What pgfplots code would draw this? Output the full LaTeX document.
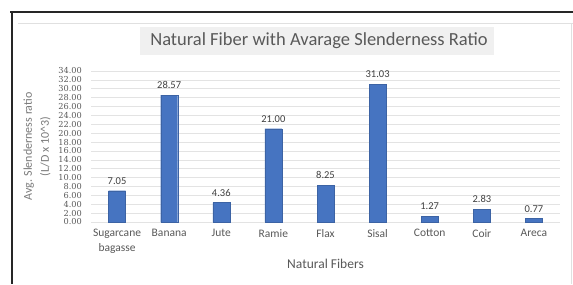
\documentclass[border=0pt]{standalone}
\usepackage{fontspec}
\setmainfont{Carlito}
\newfontfamily\tickfont{DejaVu Serif}
\usepackage{pgfplots}
\pgfplotsset{compat=1.18}
\definecolor{barblue}{HTML}{4674C1}
\definecolor{txtgray}{HTML}{595959}
\definecolor{gridgray}{HTML}{E3E3E3}
\begin{document}
\begin{tikzpicture}[x=1bp,y=1bp]
\useasboundingbox (0,0) rectangle (573,284);
\fill[white] (0,0) rectangle (573,284);
% frame
\draw[line width=1.6bp, black!85] (10,272) -- (573,272);
\draw[line width=1.6bp, black!85] (12,272) -- (12,0);
\draw[line width=0.6bp, black!12] (18,261) -- (573,261);
\draw[line width=0.6bp, black!12] (571,261) -- (571,0);
% title
\fill[black!6] (140,229) rectangle (494,257);
\node[font=\fontsize{18.5bp}{20bp}\selectfont, text=txtgray] at (319,243) {Natural Fiber with Avarage Slenderness Ratio};
\begin{axis}[
  at={(91bp,62bp)}, anchor=south west,
  scale only axis, width=469bp, height=151bp,
  ybar, bar width=17bp,
  xmin=-0.5, xmax=8.5, ymin=0, ymax=34,
  xtick=data,
  xticklabels={{Sugarcane\\bagasse},Banana,Jute,Ramie,Flax,Sisal,Cotton,Coir,Areca},
  xticklabel style={align=center, font=\fontsize{11.5bp}{15bp}\selectfont, text=txtgray, yshift=-4bp},
  ytick={0,2,...,34},
  yticklabel style={font=\tickfont\fontsize{8.2bp}{8bp}\selectfont, text=txtgray, inner sep=0pt, xshift=-9bp},
  /pgf/number format/assume math mode=true,
  /pgf/number format/fixed, /pgf/number format/fixed zerofill, /pgf/number format/precision=2,
  ymajorgrids, grid style={gridgray, line width=0.6bp},
  axis line style={draw=none},
  major tick length=0pt,
  xlabel={Natural Fibers},
  xlabel style={font=\fontsize{13.5bp}{15bp}\selectfont, text=txtgray, yshift=2bp},
  ylabel={Avg. Slenderness ratio\\(L/D x 10\^{}3)},
  ylabel style={align=center, font=\fontsize{12bp}{17bp}\selectfont, text=txtgray!80,
    at={(axis description cs:0,0.5)}, anchor=south, rotate=0, yshift=37bp},
  nodes near coords,
  every node near coord/.append style={font=\fontsize{10.5bp}{12bp}\selectfont, text=black!75, yshift=3bp},
  clip=false,
]
\addplot[fill=barblue, draw=barblue!85!black, line width=0.3bp] coordinates {
  (0,7.05) (1,28.57) (2,4.36) (3,21.00) (4,8.25) (5,31.03) (6,1.27) (7,2.83) (8,0.77)
};
\end{axis}
\end{tikzpicture}
\end{document}
